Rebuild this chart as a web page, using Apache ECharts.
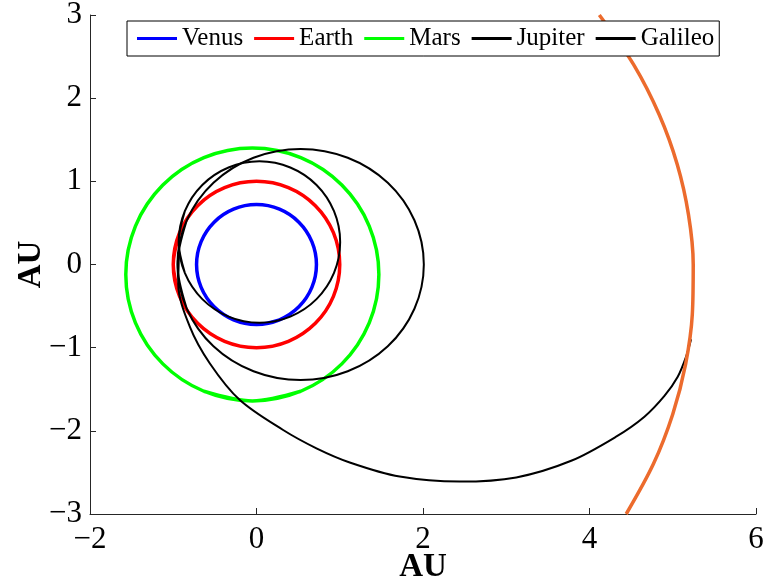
<!DOCTYPE html>
<html>
<head>
<meta charset="utf-8">
<script src="https://cdn.jsdelivr.net/npm/echarts@6/dist/echarts.min.js"></script>
<style>
html,body{margin:0;padding:0;background:#fff;}
#chart{width:764px;height:584px;}
</style>
</head>
<body>
<div id="chart"></div>
<script>
// ---- data (AU) ----
var legendNames = ['Venus', 'Earth', 'Mars', 'Jupiter', 'Galileo'];
var xTicks = [-2, 0, 2, 4, 6];
var yTicks = [-3, -2, -1, 0, 1, 2, 3];

// closed orbits (first point repeated at the end)
var venus = [[0,-0.72],[0.276,-0.665],[0.509,-0.509],[0.665,-0.276],[0.72,0],[0.665,0.276],[0.509,0.509],[0.276,0.665],[0,0.72],[-0.276,0.665],[-0.509,0.509],[-0.665,0.276],[-0.72,0],[-0.665,-0.276],[-0.509,-0.509],[-0.276,-0.665],[0,-0.72]];
var earth = [[-1,0],[-0.924,-0.383],[-0.707,-0.707],[-0.383,-0.924],[0,-1],[0.383,-0.924],[0.707,-0.707],[0.924,-0.383],[1,0],[0.924,0.383],[0.707,0.707],[0.383,0.924],[0,1],[-0.383,0.924],[-0.707,0.707],[-0.924,0.383],[-1,0]];
var mars = [[-0.05,-1.64],[0.532,-1.524],[1.025,-1.195],[1.354,-0.702],[1.47,-0.12],[1.354,0.462],[1.025,0.955],[0.532,1.284],[-0.05,1.40],[-0.632,1.284],[-1.125,0.955],[-1.454,0.462],[-1.57,-0.12],[-1.454,-0.702],[-1.125,-1.195],[-0.632,-1.524],[-0.05,-1.64]];
var galileoLoop = [[-0.935,0.27],[-0.861,-0.101],[-0.651,-0.416],[-0.336,-0.626],[0.035,-0.70],[0.406,-0.626],[0.721,-0.416],[0.931,-0.101],[1.005,0.27],[0.931,0.641],[0.721,0.956],[0.406,1.166],[0.035,1.24],[-0.336,1.166],[-0.651,0.956],[-0.861,0.641],[-0.935,0.27]];
var galileoEllipse = [[-0.95,0],[-0.837,-0.532],[-0.517,-0.983],[-0.036,-1.284],[0.53,-1.39],[1.096,-1.284],[1.577,-0.983],[1.897,-0.532],[2.01,0],[1.897,0.532],[1.577,0.983],[1.096,1.284],[0.53,1.39],[-0.036,1.284],[-0.517,0.983],[-0.837,0.532],[-0.95,0]];
// open curves
var galileoTransfer = [[-0.93,0.15],[-0.94,-0.23],[-0.80,-0.75],[-0.56,-1.19],[-0.20,-1.63],[0.32,-1.99],[0.72,-2.21],[1.12,-2.38],[1.72,-2.55],[2.44,-2.61],[3.12,-2.56],[3.78,-2.36],[4.32,-2.07],[4.66,-1.83],[4.90,-1.58],[5.06,-1.35],[5.16,-1.11],[5.22,-0.90]];
var jupiter = [[4.118,3.0],[4.532,2.4],[4.838,1.8],[5.055,1.2],[5.189,0.6],[5.246,0.0],[5.235,-0.6],[5.154,-1.2],[5.0,-1.8],[4.767,-2.4],[4.441,-3.0]];

var FONT = '"Liberation Serif", "Times New Roman", serif';
function minus(v){ return String(v).replace('-', '\u2212'); }

// wrap a closed ring so every drawn vertex gets a two-sided smooth tangent
function ring(arr){ return [arr[arr.length-2]].concat(arr, [arr[1]]); }

function curve(name, data, color, width){
  return {
    name: name, type: 'line', data: data, smooth: 0.33,
    symbol: 'none', showSymbol: false, silent: true, animation: false,
    lineStyle: { color: color, width: width }, itemStyle: { color: color }
  };
}

var chart = echarts.init(document.getElementById('chart'), null, {renderer: 'canvas'});
chart.setOption({
  backgroundColor: '#fff',
  animation: false,
  grid: { left: 90, right: 8, top: 15, bottom: 70, containLabel: false, outerBoundsMode: 'none' },
  legend: {
    left: 127, top: 21,
    orient: 'horizontal',
    icon: 'rect',
    itemWidth: 40, itemHeight: 3, itemGap: 11,
    padding: [5, 5, 5, 10],
    borderColor: '#000', borderWidth: 1, backgroundColor: '#fff',
    textStyle: { fontFamily: FONT, fontSize: 25, color: '#000' },
    data: [
      { name: legendNames[0] },
      { name: legendNames[1] },
      { name: legendNames[2] },
      { name: legendNames[3], itemStyle: { color: '#000' } },
      { name: legendNames[4] }
    ]
  },
  xAxis: {
    type: 'value', min: xTicks[0], max: xTicks[xTicks.length-1], interval: 2,
    name: 'AU', nameLocation: 'middle', nameGap: 37, nameMoveOverlap: false,
    nameTextStyle: { fontFamily: FONT, fontSize: 33, fontWeight: 'bold', color: '#000' },
    axisLine: { show: true, onZero: false, lineStyle: { color: '#262626', width: 1 } },
    axisTick: { show: true, inside: true, length: 6, lineStyle: { color: '#262626' } },
    axisLabel: { fontFamily: FONT, fontSize: 31, color: '#000', margin: 10, formatter: minus },
    splitLine: { show: false }
  },
  yAxis: {
    type: 'value', min: yTicks[0], max: yTicks[yTicks.length-1], interval: 1,
    name: 'AU', nameLocation: 'middle', nameGap: 42, nameRotate: 90, nameMoveOverlap: false,
    nameTextStyle: { fontFamily: FONT, fontSize: 33, fontWeight: 'bold', color: '#000' },
    axisLine: { show: true, onZero: false, lineStyle: { color: '#262626', width: 1 } },
    axisTick: { show: true, inside: true, length: 6, lineStyle: { color: '#262626' } },
    axisLabel: { fontFamily: FONT, fontSize: 31, color: '#000', margin: 8, formatter: minus },
    splitLine: { show: false }
  },
  series: [
    curve('Venus', ring(venus), '#0000ff', 3.5),
    curve('Earth', ring(earth), '#ff0000', 3.5),
    curve('Mars', ring(mars), '#00ff00', 3.5),
    curve('Galileo', ring(galileoLoop), '#000000', 2),
    curve('Galileo', ring(galileoEllipse), '#000000', 2),
    curve('Galileo', galileoTransfer, '#000000', 2),
    curve('Jupiter', jupiter, '#ec6b2d', 3.5)
  ]
});
</script>
</body>
</html>
